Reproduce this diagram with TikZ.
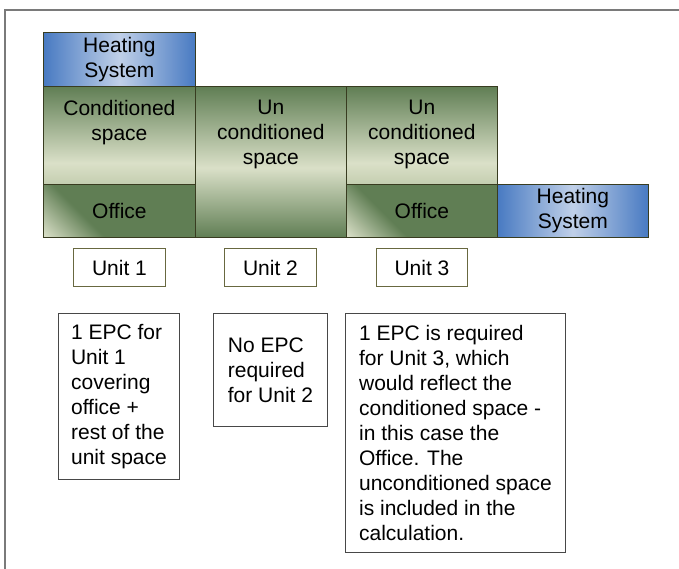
\documentclass[tikz,border=0pt]{standalone}
\usepackage{fontspec}
\setmainfont{Liberation Sans}

\definecolor{greenD}{RGB}{96,126,84}
\definecolor{greenM}{RGB}{196,206,176}
\definecolor{greenL}{RGB}{218,224,200}
\definecolor{blueD}{RGB}{72,122,194}
\definecolor{blueL}{RGB}{192,208,232}
\definecolor{blockline}{RGB}{56,60,32}
\definecolor{unitline}{RGB}{104,104,64}
\definecolor{epcline}{RGB}{72,72,72}
\definecolor{framegray}{RGB}{122,122,122}

% node edges sit at 25bp (bottom) and 75bp (top)
\pgfdeclareverticalshading{condfade}{100bp}{color(0bp)=(greenM); color(25bp)=(greenM); color(36bp)=(greenL); color(75bp)=(greenD); color(100bp)=(greenD)}
\pgfdeclareverticalshading{unfade}{100bp}{color(0bp)=(greenD); color(25bp)=(greenD); color(48bp)=(greenL); color(75bp)=(greenD); color(100bp)=(greenD)}
\pgfdeclareverticalshading{officefade}{100bp}{color(0bp)=(greenL); color(15bp)=(greenL); color(36bp)=(greenD); color(100bp)=(greenD)}

\tikzset{
  block/.style={draw=blockline, line width=0.8pt, anchor=north west, inner sep=0pt, align=center},
  heatbox/.style={block, left color=blueD, right color=blueD, middle color=blueL},
  condbox/.style={block, shading=condfade},
  unbox/.style={block, shading=unfade},
  officebox/.style={block, shading=officefade, shading angle=-45},
  toptext/.style={anchor=north, inner sep=0pt, yshift=-14pt, align=center},
  unitbox/.style={draw=unitline, line width=1pt, anchor=north west, minimum width=92pt, minimum height=38pt, inner sep=0pt},
  epcbox/.style={draw=epcline, line width=0.9pt, anchor=north west, align=left, inner sep=0pt}
}

\begin{document}
\begin{tikzpicture}[x=1pt, y=-1pt, font=\fontsize{21}{25}\selectfont]
  \useasboundingbox (0,0) rectangle (679,569);
  \draw[framegray, line width=1.5pt] (5,569) -- (5,10) -- (679,10);

  % building
  \node[heatbox, minimum width=152pt, minimum height=54pt] (heatA) at (43,32) {Heating\\System};
  \node[condbox, minimum width=152pt, minimum height=98pt,
        label={[toptext]north:{Conditioned\\space}}] (condA) at (43,86) {};
  \node[officebox, minimum width=152pt, minimum height=53pt] (officeA) at (43,184) {Office};
  \node[unbox, minimum width=151pt, minimum height=151pt,
        label={[toptext]north:{Un\\conditioned\\space}}] (unB) at (195,86) {};
  \node[condbox, minimum width=151pt, minimum height=98pt,
        label={[toptext]north:{Un\\conditioned\\space}}] (unC) at (346,86) {};
  \node[officebox, minimum width=151pt, minimum height=53pt] (officeC) at (346,184) {Office};
  \node[heatbox, minimum width=151pt, minimum height=53pt] (heatC) at (497,184) {Heating\\System};

  % units
  \node[unitbox] (unitA) at (73,248) {Unit 1};
  \node[unitbox] (unitB) at (224,248) {Unit 2};
  \node[unitbox, minimum width=91pt] (unitC) at (376,248) {Unit 3};

  % EPC notes
  \node[epcbox, minimum width=121pt, minimum height=166pt] (epcA) at (58,313)
    {1 EPC for\\Unit 1\\covering\\office +\\rest of the\\unit space};
  \node[epcbox, minimum width=114pt, minimum height=113pt] (epcB) at (213,313)
    {No EPC\\required\\for Unit 2};
  \node[epcbox, minimum width=220pt, minimum height=239pt] (epcC) at (345,313)
    {1 EPC is required\\for Unit 3, which\\would reflect the\\conditioned space -\\in this case the\\Office. The\\unconditioned space\\is included in the\\calculation.};
\end{tikzpicture}
\end{document}
